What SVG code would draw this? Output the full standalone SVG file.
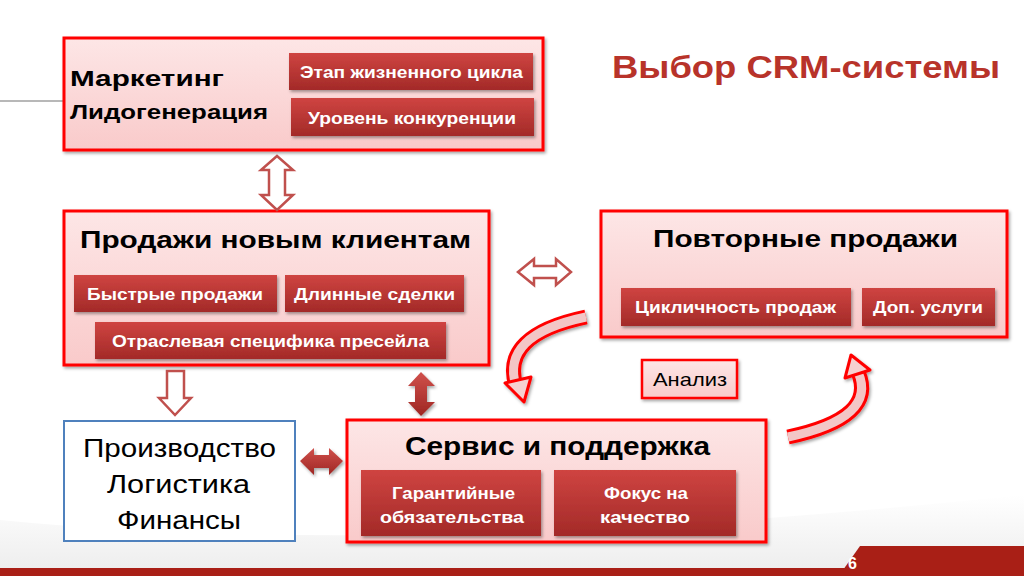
<svg xmlns="http://www.w3.org/2000/svg" width="1024" height="576" viewBox="0 0 1024 576">
<defs>
<linearGradient id="boxg" x1="0" y1="0" x2="0" y2="1"><stop offset="0" stop-color="#FDE6E6"/><stop offset="1" stop-color="#F9CACA"/></linearGradient>
<linearGradient id="btng" x1="0" y1="0" x2="0" y2="1"><stop offset="0" stop-color="#CF4441"/><stop offset="1" stop-color="#A32A28"/></linearGradient>
<linearGradient id="solidg" x1="0" y1="0" x2="0" y2="1"><stop offset="0" stop-color="#D0504C"/><stop offset="1" stop-color="#9E2622"/></linearGradient>
<linearGradient id="swoosh" x1="0" y1="0" x2="0" y2="1"><stop offset="0" stop-color="#FFFFFF"/><stop offset="1" stop-color="#ECECEC"/></linearGradient>
<filter id="sh" x="-5%" y="-10%" width="115%" height="130%"><feDropShadow dx="1.5" dy="2" stdDeviation="1.5" flood-color="#000" flood-opacity="0.35"/></filter>
</defs>
<style>
.box{fill:url(#boxg);stroke:#FF0000;stroke-width:3;filter:url(#sh)}
.btn{fill:url(#btng);filter:url(#sh)}
text{font-family:"Liberation Sans",Arial,sans-serif}
.bt{font-weight:bold;font-size:17px;fill:#FFFFFF}
.hd{font-weight:bold;fill:#000}
.rg{font-size:25px;fill:#000}
.hollow{fill:#FFFFFF;stroke:#C0504D;stroke-width:2.5;stroke-linejoin:miter}
.solid{fill:url(#solidg);filter:url(#sh)}
</style>
<rect width="1024" height="576" fill="#FFFFFF"/>
<path d="M0 520 Q 400 560 1024 495 L1024 576 L0 576 Z" fill="url(#swoosh)"/>
<path d="M0 568 L1024 568 L1024 576 L0 576 Z" fill="#A91F16"/>
<path d="M860 546 L1024 546 L1024 570 L843 570 Z" fill="#A91F16"/>
<text x="848" y="569" font-weight="bold" font-size="16" fill="#FFFFFF">6</text>
<line x1="0" y1="101" x2="64" y2="101" stroke="#A0A0A0" stroke-width="1.5"/>
<text x="612" y="78" font-weight="bold" font-size="31" fill="#B8332A" textLength="388" lengthAdjust="spacingAndGlyphs">Выбор CRM-системы</text>

<g id="marketing">
<rect class="box" x="64" y="38" width="479" height="112"/>
<text class="hd" x="70" y="86" font-size="22" textLength="154" lengthAdjust="spacingAndGlyphs">Маркетинг</text>
<text class="hd" x="70" y="119" font-size="21" textLength="198" lengthAdjust="spacingAndGlyphs">Лидогенерация</text>
<rect class="btn" x="289" y="53" width="244" height="37"/>
<text class="bt" x="300" y="78" textLength="223" lengthAdjust="spacingAndGlyphs">Этап жизненного цикла</text>
<rect class="btn" x="291" y="98" width="243" height="38"/>
<text class="bt" x="308" y="124" textLength="208" lengthAdjust="spacingAndGlyphs">Уровень конкуренции</text>
</g>

<g id="new-sales">
<rect class="box" x="64" y="211" width="425" height="154"/>
<text class="hd" x="80" y="248" font-size="24" textLength="391" lengthAdjust="spacingAndGlyphs">Продажи новым клиентам</text>
<rect class="btn" x="74" y="275" width="203" height="37"/>
<text class="bt" x="87" y="300" textLength="176" lengthAdjust="spacingAndGlyphs">Быстрые продажи</text>
<rect class="btn" x="285" y="275" width="179" height="37"/>
<text class="bt" x="294" y="300" textLength="161" lengthAdjust="spacingAndGlyphs">Длинные сделки</text>
<rect class="btn" x="95" y="322" width="351" height="37"/>
<text class="bt" x="112" y="347" textLength="317" lengthAdjust="spacingAndGlyphs">Отраслевая специфика пресейла</text>
</g>

<g id="repeat-sales">
<rect class="box" x="601" y="211" width="406" height="126"/>
<text class="hd" x="653" y="247" font-size="24" textLength="305" lengthAdjust="spacingAndGlyphs">Повторные продажи</text>
<rect class="btn" x="621" y="288" width="230" height="38"/>
<text class="bt" x="635" y="313" textLength="201" lengthAdjust="spacingAndGlyphs">Цикличность продаж</text>
<rect class="btn" x="862" y="288" width="133" height="38"/>
<text class="bt" x="873" y="313" textLength="110" lengthAdjust="spacingAndGlyphs">Доп. услуги</text>
</g>

<g id="analysis">
<rect x="642" y="360" width="95" height="38" fill="url(#boxg)" stroke="#FF0000" stroke-width="2.5" filter="url(#sh)"/>
<text x="653" y="386" font-size="19" textLength="74" lengthAdjust="spacingAndGlyphs">Анализ</text>
</g>

<g id="production">
<rect x="64" y="421" width="231" height="120" fill="#FFFFFF" stroke="#4F81BD" stroke-width="2"/>
<text class="rg" x="83" y="457" textLength="193" lengthAdjust="spacingAndGlyphs">Производство</text>
<text class="rg" x="107" y="493" textLength="143" lengthAdjust="spacingAndGlyphs">Логистика</text>
<text class="rg" x="117" y="529" textLength="124" lengthAdjust="spacingAndGlyphs">Финансы</text>
</g>

<g id="service">
<rect class="box" x="347" y="420" width="419" height="122"/>
<text class="hd" x="405" y="455" font-size="26" textLength="305" lengthAdjust="spacingAndGlyphs">Сервис и поддержка</text>
<rect class="btn" x="361" y="470" width="180" height="66"/>
<text class="bt" x="392" y="499" textLength="123" lengthAdjust="spacingAndGlyphs">Гарантийные</text>
<text class="bt" x="380" y="523" textLength="144" lengthAdjust="spacingAndGlyphs">обязательства</text>
<rect class="btn" x="554" y="470" width="182" height="66"/>
<text class="bt" x="604" y="499" textLength="84" lengthAdjust="spacingAndGlyphs">Фокус на</text>
<text class="bt" x="600" y="523" textLength="90" lengthAdjust="spacingAndGlyphs">качество</text>
</g>

<g id="connectors">
<polygon class="hollow" points="277,156 293,170 285,170 285,195 293,195 277,210 261,195 269,195 269,170 261,170"/>
<polygon class="hollow" points="518,272 534,259 534,266 556,266 556,259 571,272 556,285 556,278 534,278 534,285"/>
<polygon class="hollow" points="167,371 184,371 184,398 191,398 175,415 159,398 167,398"/>
<polygon class="solid" points="421,372 435,386 427,386 427,402 435,402 421,416 408,402 415,402 415,386 408,386"/>
<polygon class="solid" points="300,461 314,448 314,455 329,455 329,448 343,461 329,475 329,468 314,468 314,475"/>
<g filter="url(#sh)">
<path d="M586 317 Q 500 335 516 386" fill="none" stroke="#FF0000" stroke-width="15"/>
<path d="M586 317 Q 500 335 516 386" fill="none" stroke="#F3C6C6" stroke-width="9"/>
<polygon points="505,383 531,377 524,402" fill="#F6D0D0" stroke="#FF0000" stroke-width="3" stroke-linejoin="round"/>
</g>
<g filter="url(#sh)">
<path d="M788 437 Q 878 418 858 372" fill="none" stroke="#FF0000" stroke-width="15"/>
<path d="M788 437 Q 878 418 858 372" fill="none" stroke="#F3C6C6" stroke-width="9"/>
<polygon points="845,378 870,370 851,355" fill="#F6D0D0" stroke="#FF0000" stroke-width="3" stroke-linejoin="round"/>
</g>
</g>
</svg>
